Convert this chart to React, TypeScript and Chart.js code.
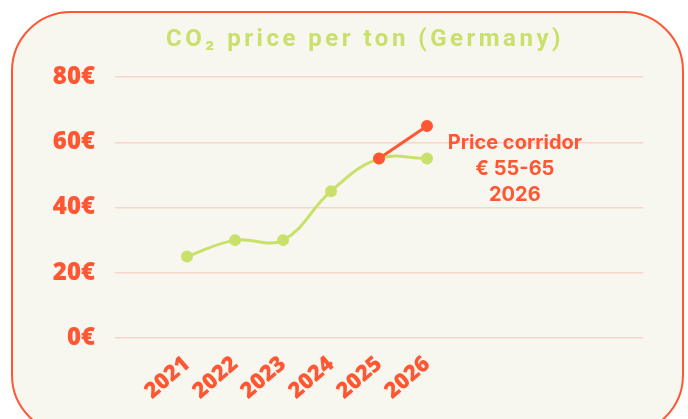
import React, { useEffect, useRef } from "react";
import { Chart, registerables } from "chart.js";
Chart.register(...registerables);

const categories = ["", "2021", "2022", "2023", "2024", "2025", "2026", "", "", "", ""];
const priceValues = [null, 25, 30, 30, 45, 55, 55, null, null, null, null];
const corridorValues = [null, null, null, null, null, 55, 65, null, null, null, null];
const yMin = 0;
const yMax = 80;
const yStep = 20;
const titleText = "CO₂ price per ton (Germany)";
const annotationLines = ["Price corridor", "€ 55-65", "2026"];

const ORANGE = "#ff5733";
const GREEN = "#c9e06a";
const GRID = "#f8d5c8";
const CARD_BG = "#f7f6ef";

const overlayPlugin = {
  id: "overlay",
  afterDraw(chart: any) {
    const ctx = chart.ctx;
    ctx.save();
    // title
    ctx.font = "bold 24px Roboto";
    ctx.fillStyle = GREEN;
    ctx.textAlign = "center";
    ctx.textBaseline = "middle";
    (ctx as any).letterSpacing = "3.5px";
    ctx.fillText(titleText, 365, 40);
    (ctx as any).letterSpacing = "0px";
    // annotation
    const xs = chart.scales.x;
    const ys = chart.scales.y;
    const ax = xs.getPixelForValue(7.83);
    const ay = ys.getPixelForValue(60);
    ctx.font = "bold 20px Inter";
    ctx.fillStyle = ORANGE;
    annotationLines.forEach((t, i) => {
      ctx.fillText(t, ax, ay + 1 + i * 26);
    });
    ctx.restore();
  },
};

export default function App() {
  const ref = useRef<HTMLCanvasElement>(null);
  useEffect(() => {
    if (!ref.current) return;
    const chart = new Chart(ref.current, {
      type: "line",
      data: {
        labels: categories,
        datasets: [
          {
            data: corridorValues as any,
            borderColor: ORANGE,
            backgroundColor: ORANGE,
            borderWidth: 3,
            pointRadius: 4.5,
            tension: 0,
          },
          {
            data: priceValues as any,
            borderColor: GREEN,
            backgroundColor: GREEN,
            borderWidth: 3,
            pointRadius: 4.5,
            tension: 0.4,
          },
        ],
      },
      options: {
        animation: false,
        responsive: false,
        layout: { padding: { top: 77, left: 0, right: 45, bottom: 0 } },
        plugins: { legend: { display: false }, tooltip: { enabled: false }, title: { display: false } },
        scales: {
          x: {
            offset: true,
            grid: { display: false },
            border: { display: false },
            ticks: {
              color: ORANGE,
              font: { family: "'Open Sans'", weight: 800, size: 22 },
              minRotation: 41,
              maxRotation: 41,
              autoSkip: false,
              padding: 5,
            },
            afterFit: (s: any) => {
              s.height = 81;
            },
          },
          y: {
            min: yMin,
            max: yMax,
            grid: { color: GRID, drawTicks: false, lineWidth: 1.5 },
            border: { display: false },
            ticks: {
              stepSize: yStep,
              color: ORANGE,
              font: { family: "'Open Sans'", weight: 800, size: 24 },
              padding: 20,
              callback: (v: any) => v + "€",
            },
            afterFit: (s: any) => {
              s.width = 115;
            },
          },
        },
      },
      plugins: [overlayPlugin],
    });
    return () => chart.destroy();
  }, []);

  return (
    <div style={{ position: "fixed", left: 0, top: 0, width: 688, height: 419, background: "#fff", overflow: "hidden" }}>
      <div
        style={{
          position: "absolute",
          left: 11,
          top: 11,
          width: 669,
          height: 420,
          border: `2px solid ${ORANGE}`,
          borderRadius: 60,
          background: CARD_BG,
        }}
      />
      <canvas ref={ref} width={688} height={419} style={{ position: "absolute", left: 0, top: 0 }} />
    </div>
  );
}
